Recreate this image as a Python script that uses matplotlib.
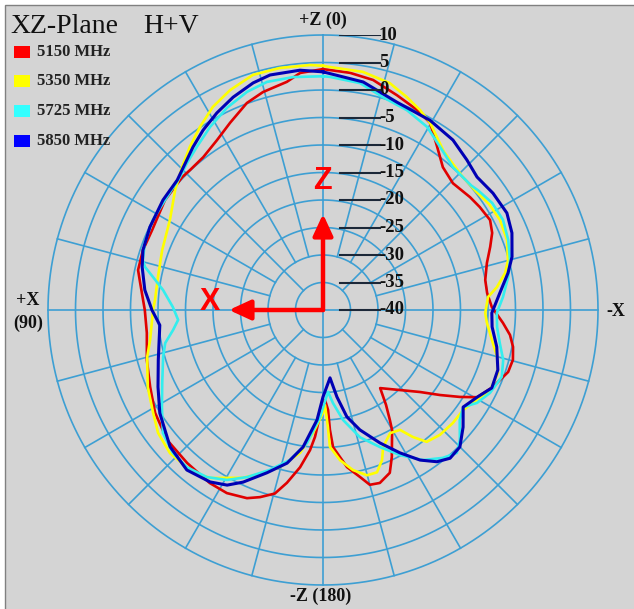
import numpy as np
import matplotlib
matplotlib.use('Agg')
import matplotlib.pyplot as plt
from matplotlib.patches import Rectangle

W, H = 634, 609
CX, CY, R = 323, 310, 275  # polar centre and outer radius, in pixels

# ---------------- data ----------------
series_names = ['5150 MHz', '5350 MHz', '5725 MHz', '5850 MHz']

theta_5150 = [0, 5.5, 9.0, 15.4, 20.2, 26.4, 32.0, 38.1, 43.5, 46.7, 55.2, 64.9, 71.6, 77.8, 81.6,
              90, 97.4, 105.9, 114, 121.5, 129.8, 138.4, 146.8, 152.3, 158.0, 161.4, 165.3, 168.2,
              171.7, 174.7, 176.4, 178.4, 181.3, 182.9, 183.3, 184.2, 188.7, 192.5, 195.0, 198.2,
              202.3, 205.1, 209.9, 211.3, 213.6, 216.2, 223.9, 229.8, 234.0, 237.6, 240.5, 245.6,
              251.5, 255.3, 259.0, 262.4, 265.9, 271.0, 275.9, 280.5, 286.0, 290.7, 294.5, 298.3,
              303.3, 307.5, 314.3, 320.0, 325.0, 330.2, 334.8, 341.0, 347.7, 353.5]
db_5150 = [3.8, 3.3, 2.0, 1.1, 0.1, -2.0, -3.6, -4.7, -4.9, -4.8, -5.0, -5.7, -5.5, -5.6, -6.4,
           -7.6, -7.7, -6.7, -5.6, -4.2, -3.1, -2.8, -2.4, -2.4, -3.1, -4.1, -5.5, -7.9,
           -11.1, -14.4, -16.9, -20.9, -23.6, -21.8, -18.2, -15.0, -11.1, -8.9, -7.1, -6.9,
           -8.0, -10.5, -14.8, -16.6, -19.3, -22.4, -19.8, -16.9, -13.7, -10.5, -7.8, -6.1,
           -4.5, -4.3, -4.8, -5.7, -7.2, -9.3, -10.0, -10.0, -9.0, -7.5, -6.2, -5.5,
           -5.9, -6.3, -7.0, -6.1, -3.8, -0.8, 0.2, 1.3, 2.8, 3.4]

theta_5350 = [0, 3.0, 10.1, 16.6, 22.9, 28.5, 33.9, 39.2, 44.6, 51.0, 59.5, 69.6, 78.7, 86.6, 90,
              99.8, 105.0, 113.7, 121.2, 126.7, 133.1, 141.3, 146.1, 154.5, 159.8, 164.7, 170.9,
              175.4, 180, 181.2, 182.4, 182.9, 186.5, 190.6, 194.9, 198.4, 201.5, 203.7, 208.6,
              212.7, 215.3, 218.2, 223.1, 229.0, 234.5, 239.7, 244.4, 250.2, 254.9, 259.9, 265.5,
              268.9, 274.5, 277.5, 281.5, 284.9, 290.8, 297.0, 302.6, 307.9, 314.0, 322.6, 330.2,
              334.1, 338.5, 343.6, 350.5, 358.4]
db_5350 = [4.4, 4.6, 4.7, 4.6, 3.4, 2.0, 0.1, -1.7, -3.5, -5.4, -7.7, -8.8, -9.4, -9.4, -9.1,
           -8.1, -6.9, -5.2, -3.9, -2.6, -1.9, -2.2, -3.2, -6.2, -8.4, -10.4, -13.7,
           -17.6, -21.3, -22.7, -18.7, -15.1, -12.5, -10.4, -8.9, -8.9, -10.7, -12.8, -14.5,
           -14.1, -11.7, -9.5, -8.9, -8.7, -8.7, -7.6, -6.3, -6.2, -7.2, -8.8, -10.1,
           -10.5, -9.9, -8.1, -6.2, -5.2, -4.2, -3.9, -4.2, -4.8, -4.9, -3.8, -0.8,
           0.4, 1.6, 3.0, 3.9, 4.2]

theta_5725 = [0, 7.3, 13.8, 19.2, 25.4, 31.7, 37.7, 42.8, 47.1, 55.2, 62.1, 69.4, 74.5, 76.4, 79.0,
              82.9, 88.9, 93.9, 97.6, 101.8, 106.4, 114.4, 121.1, 127.5, 133.6, 139.1, 145.2, 150.5,
              155.5, 161.7, 167.6, 173.1, 178.4, 183.5, 186.1, 190.3, 196.2, 202.6, 208.0, 213.7,
              219.0, 223.1, 226.5, 231.2, 235.3, 238.9, 243.6, 249.5, 254.5, 259.4, 264.4, 269.0,
              274.1, 280.1, 285.0, 290.7, 296.6, 302.3, 307.7, 310.0, 317.7, 324.3, 330.4, 337.2,
              344.3, 350.7, 358.3]
db_5725 = [2.5, 2.7, 2.7, 2.0, 0.7, -0.9, -2.5, -3.6, -4.5, -5.0, -5.0, -5.4, -6.0, -6.7, -8.5,
           -10.7, -12.7, -13.6, -12.5, -10.7, -9.7, -7.9, -5.8, -3.3, -2.3, -2.2, -3.0, -4.5,
           -6.6, -9.4, -12.1, -15.6, -20.5, -25.1, -23.0, -19.7, -15.9, -13.0, -10.1, -7.2,
           -5.4, -4.4, -5.7, -8.1, -9.0, -7.3, -6.1, -5.3, -6.0, -7.3, -8.2, -8.4,
           -7.2, -5.8, -4.8, -4.0, -3.4, -3.6, -4.4, -4.8, -4.9, -3.5, -1.7, -0.6,
           0.2, 1.8, 2.4]

theta_5850 = [0, 5.5, 12.7, 17.1, 22.9, 28.3, 33.7, 38.6, 48.3, 55.5, 64.4, 71.6, 76.6, 83.6, 90,
              95.3, 106.9, 115, 122.3, 131.8, 139.6, 146.7, 151.3, 155.1, 161.0, 166.8, 171.7,
              176.9, 180, 185.9, 189.1, 192.6, 197.1, 203.2, 208.3, 212.9, 216.9, 220.6, 225,
              230.1, 235.3, 240.5, 245.2, 251.1, 258, 264.3, 269, 275.5, 281.3, 285.7, 292.2,
              297.8, 304.5, 310.8, 316.2, 322.6, 330.6, 340.4, 350]
db_5850 = [3.3, 3.8, 3.8, 3.2, 2.0, 0.7, -0.7, -2.1, -4.5, -4.7, -5.1, -5.5, -6.2, -7.4, -8.9,
           -10.2, -8.7, -6.9, -4.9, -2.7, -1.8, -2.6, -3.7, -5.5, -8.7, -11.4, -14.8,
           -20.0, -24.2, -27.6, -24.0, -20.1, -17.2, -13.7, -10.5, -7.5, -5.5, -4.5, -4.8,
           -6.8, -9.0, -7.8, -6.2, -6.4, -7.7, -9.1, -9.3, -7.7, -5.7, -4.3, -2.9,
           -2.2, -2.5, -3.0, -2.2, -1.1, -0.4, 0.1, 2.1]

r_min, r_max = -40, 10
ring_levels = [-35, -30, -25, -20, -15, -10, -5, 0, 5, 10]
label_levels = [10, 5, 0, -5, -10, -15, -20, -25, -30, -35, -40]
spoke_angles = list(range(0, 360, 15))

# ---------------- styling ----------------
line_colors = ['#e00000', '#ffff00', '#33eeee', '#0000b4']
box_colors = ['#ff0000', '#ffff00', '#33ffff', '#0000ff']
line_widths = [1.9, 1.9, 1.9, 2.2]
grid_col = '#3d9fd3'
bg_col = '#d4d4d4'
serif = ['Liberation Serif', 'DejaVu Serif']

fig = plt.figure(figsize=(W / 100, H / 100), dpi=100)
fig.patch.set_facecolor('white')
fig.patches.append(Rectangle((5 / W, -0.01), 1.02 - 5 / W, 1.01 - 5 / H, transform=fig.transFigure,
                             facecolor=bg_col, edgecolor='#808080', lw=1.0, zorder=-10))

rect = [(CX - R) / W, (H - CY - R) / H, 2 * R / W, 2 * R / H]
ax = fig.add_axes(rect, projection='polar')
ax.set_theta_zero_location('N')
ax.set_theta_direction(1)
ax.set_ylim(r_min, r_max)
ax.set_xticks([])
ax.set_yticks([])
ax.grid(False)
ax.spines['polar'].set_visible(False)
ax.patch.set_visible(False)

# rings
tt = np.linspace(0, 2 * np.pi, 721)
for L in ring_levels:
    ax.plot(tt, np.full_like(tt, L), color=grid_col, lw=1.2, zorder=1, clip_on=False)
# spokes
for a in spoke_angles:
    if a % 90 == 0:
        start = r_min
    elif a % 45 == 0:
        start = -35
    else:
        start = -30
    ax.plot([np.deg2rad(a)] * 2, [start, r_max], color=grid_col, lw=1.2, zorder=1, clip_on=False)

# curves
all_theta = [theta_5150, theta_5350, theta_5725, theta_5850]
all_db = [db_5150, db_5350, db_5725, db_5850]
for th, db, c, lw in zip(all_theta, all_db, line_colors, line_widths):
    t = np.deg2rad(np.array(th + [th[0] + 360]))
    d = np.array(db + [db[0]])
    ax.plot(t, d, color=c, lw=lw, zorder=3, solid_joinstyle='round')

# overlay cartesian axes (pixel units) for tick labels and arrows
ax2 = fig.add_axes(rect)
ax2.set_xlim(-R, R)
ax2.set_ylim(-R, R)
ax2.axis('off')
ax2.patch.set_visible(False)
for L in label_levels:
    y = (L - r_min) / (r_max - r_min) * R
    ax2.plot([17, 57], [y, y], color='#1c2838', lw=1.5, zorder=4)
    ax2.text(56, y, f'{L}', ha='left', va='center', fontsize=13.5, fontweight='bold',
             family=serif, color='#111111', zorder=5)

# red coordinate arrows
astyle = '-|>,head_length=0.65,head_width=0.3'
ax2.annotate('', xy=(0, 96), xytext=(0, 0),
             arrowprops=dict(arrowstyle=astyle, color='#ff0000',
                             lw=3.2, mutation_scale=20, shrinkA=0, shrinkB=0), zorder=6)
ax2.annotate('', xy=(-94, 0), xytext=(0, 0),
             arrowprops=dict(arrowstyle=astyle, color='#ff0000',
                             lw=3.2, mutation_scale=20, shrinkA=0, shrinkB=0), zorder=6)

def ftext(x, y, s, **kw):
    fig.text(x / W, 1 - y / H, s, **kw)

ftext(322, 181, 'Z', ha='center', va='center', fontsize=22, fontweight='bold',
      family='Liberation Sans', color='#ff0000')
ftext(210, 302, 'X', ha='center', va='center', fontsize=22, fontweight='bold',
      family='Liberation Sans', color='#ff0000')

# axis direction labels
lab = dict(fontsize=13, fontweight='bold', family=serif, color='#111111')
ftext(323, 20, '+Z (0)', ha='center', va='center', **lab)
ftext(321, 596, '-Z (180)', ha='center', va='center', **lab)
ftext(28, 300, '+X', ha='center', va='center', **lab)
ftext(28, 323, '(90)', ha='center', va='center', **lab)
ftext(616, 311, '-X', ha='center', va='center', **lab)

# title and legend
ftext(10, 33, 'XZ-Plane', ha='left', va='baseline', fontsize=20, family=serif, color='#111111')
ftext(143, 33, 'H+V', ha='left', va='baseline', fontsize=20, family=serif, color='#111111')
legend_y = [52, 81, 111, 141]
for yy, name, c in zip(legend_y, series_names, box_colors):
    fig.patches.append(Rectangle((14 / W, 1 - (yy + 6) / H), 16 / W, 12 / H,
                                 transform=fig.transFigure, facecolor=c, edgecolor='none', zorder=2))
    ftext(37, yy, name, ha='left', va='center', fontsize=12, fontweight='bold',
          family=serif, color='#222222')

fig.savefig('out.png', dpi=100, facecolor=fig.get_facecolor())
